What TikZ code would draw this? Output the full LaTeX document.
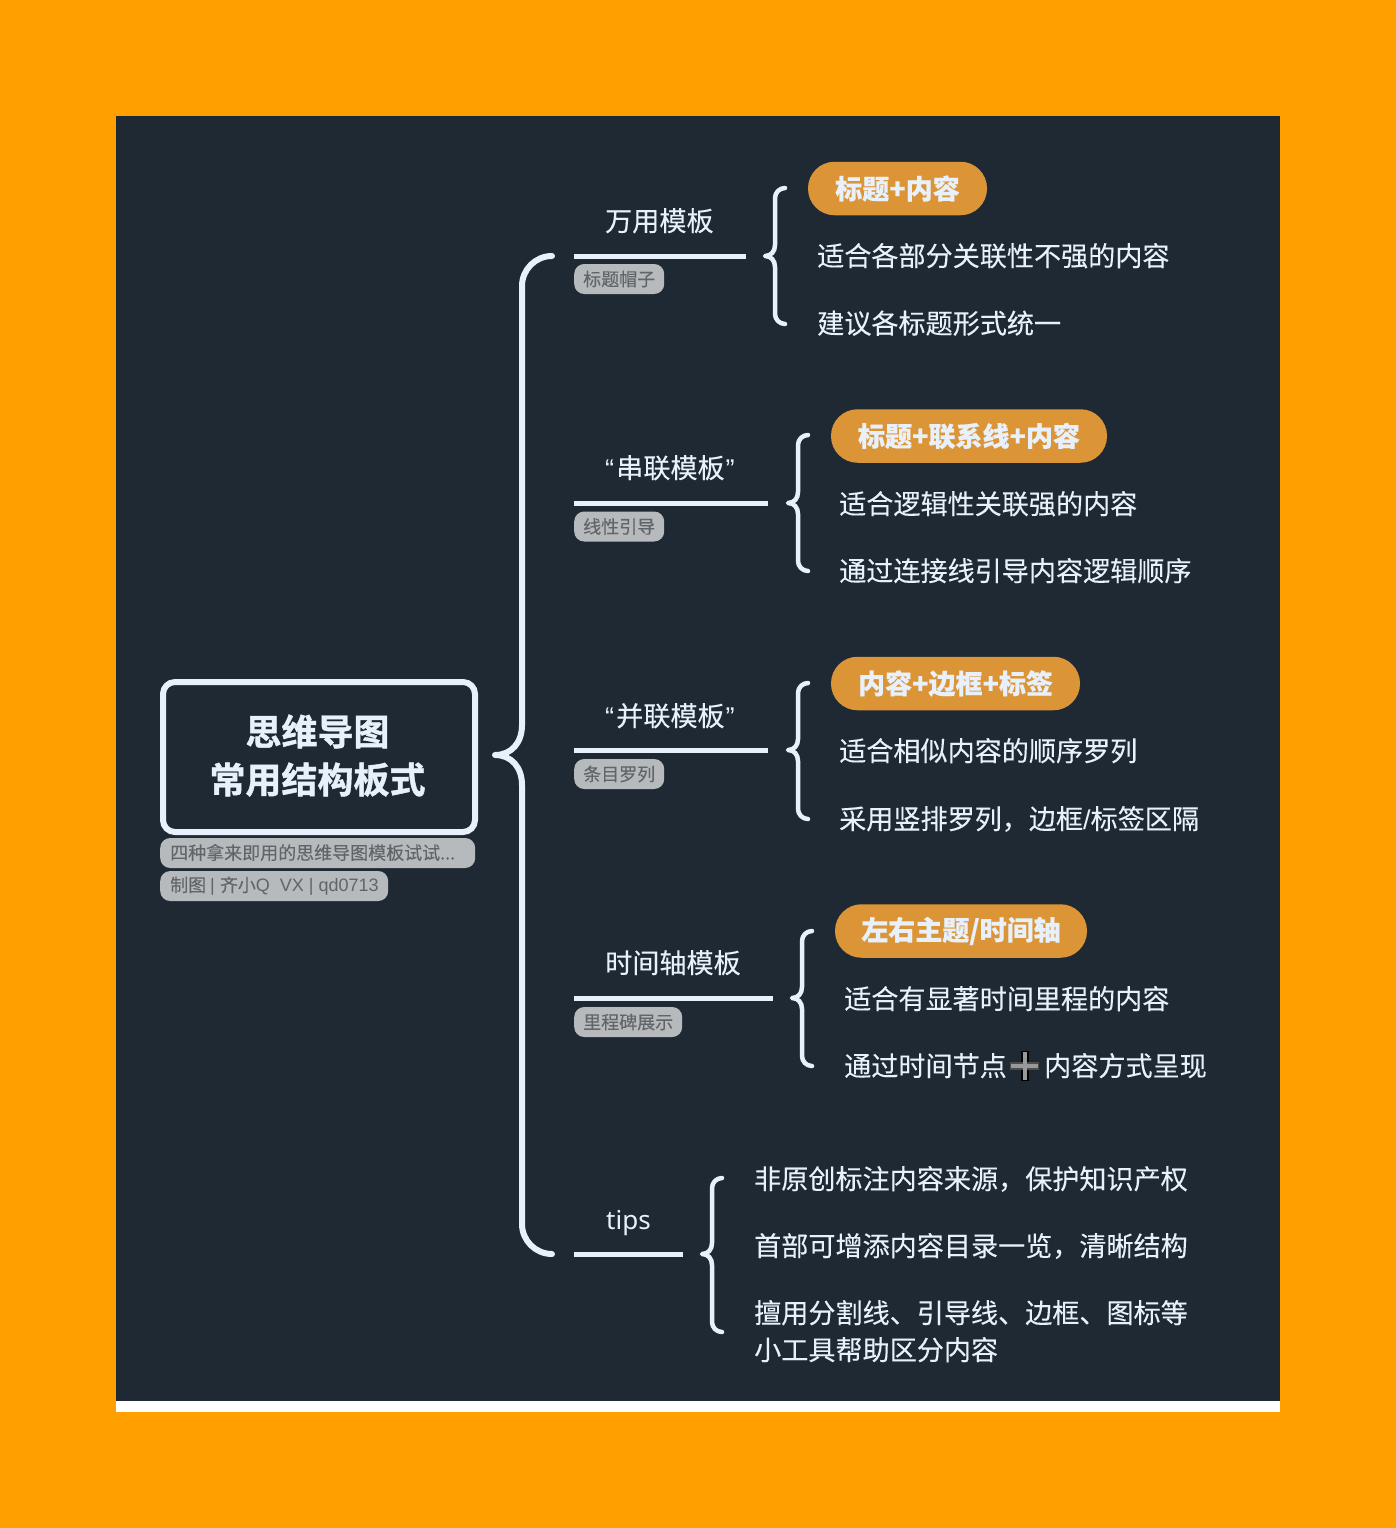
\documentclass[tikz,border=0pt]{standalone}
\usepackage{fontspec}
\setmainfont{Noto Sans CJK SC}[FakeBold=0.15,BoldFeatures={FakeBold=0.4}]
\newfontfamily\latfont{Liberation Sans}
\newfontfamily\tipfont{Noto Sans}
\newfontfamily\titlefont[FakeBold=1.2]{Noto Sans CJK SC Bold}
\usetikzlibrary{calc, positioning}

\definecolor{pagebg}{HTML}{FFA000}
\definecolor{slate}{HTML}{1F2933}
\definecolor{icewhite}{HTML}{E8F0FB}
\definecolor{honey}{HTML}{DC9536}
\definecolor{notegray}{HTML}{B7BABD}
\definecolor{notetext}{HTML}{60656A}

% tip, top end, bottom end, corner radius, spine offset, tip curve height, width
\newcommand{\curlybrace}[7]{
	\draw[icewhite,line width=#7,line cap=round,line join=round]
		(#2) .. controls +(-0.55*#4,0) and +(0,-0.55*#4) .. ($(#2)+(-#4,#4)$)
		-- ($(#1)+(#5,-#6)$) .. controls +(0,0.6*#6) and +(0.6*#5,0) .. (#1)
		.. controls +(0.6*#5,0) and +(0,-0.6*#6) .. ($(#1)+(#5,#6)$)
		-- ($(#3)+(-#4,-#4)$) .. controls +(0,0.55*#4) and +(-0.55*#4,0) .. (#3);
}

\begin{document}
\begin{tikzpicture}[x=1pt,y=-1pt,
	maintitle/.style={font=\fontsize{36}{48}\selectfont\titlefont,text=icewhite,align=center},
	mainbox/.style={draw=icewhite,line width=6pt,rounded corners=12pt,minimum width=312pt,minimum height=150pt,inner sep=0pt},
	notepill/.style={fill=notegray,rounded corners=10pt,minimum height=30pt,inner sep=0pt,text=notetext,font=\fontsize{18}{18}\selectfont,anchor=west},
	notetxt/.style={text=notetext,font=\fontsize{18}{18}\selectfont,inner sep=0pt,anchor=west},
	branchtext/.style={font=\fontsize{27.1}{27}\selectfont,text=icewhite,anchor=base west,inner sep=0pt},
	leaftext/.style={font=\fontsize{27.1}{37}\selectfont,text=icewhite,anchor=base west,inner sep=0pt,align=left},
	headpill/.style={fill=honey,rounded corners=26.5pt,minimum height=53.5pt,inner sep=0pt,text=icewhite,font=\fontsize{27}{27}\selectfont\bfseries},
	branchline/.style={icewhite,line width=5pt}
]
	\useasboundingbox (0,0) rectangle (1396,1528);
	\fill[pagebg] (0,0) rectangle (1396,1528);
	\fill[white] (116,116) rectangle (1280,1412);
	\fill[slate] (116,116) rectangle (1280,1401);

	\node[mainbox] at (319,757) (mainnode) {};
	\node[maintitle] at (317.5,755.5) (maintext) {思维导图\\常用结构板式};
	\node[notepill,minimum width=315pt] at (160,853) (note0) {};
	\node[notepill,minimum width=228pt] at (160,886) (note1) {};
	\node[notetxt] at (170,852.5) (note0text) {四种拿来即用的思维导图模板试试...};
	\node[notetxt] at (170,886) (note1text) {制图 {\latfont | }齐小{\latfont Q\ \ VX | qd0713}};

	\coordinate (bigtip) at (495,755);
	\coordinate (bigtop) at (552,256);
	\coordinate (bigbot) at (552,1254);
	\curlybrace{bigtip}{bigtop}{bigbot}{30}{27}{30}{6pt}

	% first branch
	\node[branchtext] at (605,231) (b0) {万用模板};
	\coordinate (b0s) at (574,256);
	\coordinate (b0e) at (746,256);
	\draw[branchline] (b0s) -- (b0e);
	\node[notepill,minimum width=90pt] at (574,279) (b0note) {标题帽子};
	\coordinate (b0tip) at (765,256);
	\coordinate (b0top) at (785,188);
	\coordinate (b0bot) at (785,324);
	\curlybrace{b0tip}{b0top}{b0bot}{10}{10}{11}{4.5pt}
	\node[headpill,minimum width=179pt] at (897.5,188.5) (h0) {标题+内容};
	\node[leaftext] at (817,266) (l00) {适合各部分关联性不强的内容};
	\node[leaftext] at (817,333.5) (l01) {建议各标题形式统一};

	% second branch
	\node[branchtext] at (605,478) (b1) {{\latfont “\kern2pt}串联模板{\latfont \kern1pt”}};
	\coordinate (b1s) at (574,503.5);
	\coordinate (b1e) at (768,503.5);
	\draw[branchline] (b1s) -- (b1e);
	\node[notepill,minimum width=90pt] at (574,526.5) (b1note) {线性引导};
	\coordinate (b1tip) at (788,503);
	\coordinate (b1top) at (808,435);
	\coordinate (b1bot) at (808,571);
	\curlybrace{b1tip}{b1top}{b1bot}{10}{10}{11}{4.5pt}
	\node[headpill,minimum width=276pt] at (969,436) (h1) {标题+联系线+内容};
	\node[leaftext] at (839,514) (l10) {适合逻辑性关联强的内容};
	\node[leaftext] at (839,581) (l11) {通过连接线引导内容逻辑顺序};

	% third branch
	\node[branchtext] at (605,726) (b2) {{\latfont “\kern2pt}并联模板{\latfont \kern1pt”}};
	\coordinate (b2s) at (574,750.5);
	\coordinate (b2e) at (768,750.5);
	\draw[branchline] (b2s) -- (b2e);
	\node[notepill,minimum width=90pt] at (574,774) (b2note) {条目罗列};
	\coordinate (b2tip) at (788,750);
	\coordinate (b2top) at (808,683);
	\coordinate (b2bot) at (808,819);
	\curlybrace{b2tip}{b2top}{b2bot}{10}{10}{11}{4.5pt}
	\node[headpill,minimum width=249pt] at (955.5,683.5) (h2) {内容+边框+标签};
	\node[leaftext] at (839,761) (l20) {适合相似内容的顺序罗列};
	\node[leaftext] at (839,829) (l21) {采用竖排罗列，边框{\latfont /}标签区隔};

	% fourth branch
	\node[branchtext] at (605,973) (b3) {时间轴模板};
	\coordinate (b3s) at (574,998);
	\coordinate (b3e) at (773,998);
	\draw[branchline] (b3s) -- (b3e);
	\node[notepill,minimum width=108pt] at (574,1022) (b3note) {里程碑展示};
	\coordinate (b3tip) at (792,998);
	\coordinate (b3top) at (812,931);
	\coordinate (b3bot) at (812,1066);
	\curlybrace{b3tip}{b3top}{b3bot}{10}{10}{11}{4.5pt}
	\node[headpill,minimum width=252pt] at (961,931) (h3) {左右主题/时间轴};
	\node[leaftext] at (844,1009) (l30) {适合有显著时间里程的内容};
	\node[leaftext] at (844,1076) (l31) {通过时间节点};
	\node[leaftext] at (1044,1076) (l32) {内容方式呈现};
	\fill[black] (1021,1051) rectangle (1029,1081);
	\fill[black!70] (1010,1062) rectangle (1039,1070);
	\fill[gray!80] (1023,1052) rectangle (1027,1080);
	\fill[gray!80] (1011,1063.5) rectangle (1038,1068);

	% tips
	\node[branchtext,font=\fontsize{26}{27}\selectfont\tipfont] at (606,1229) (b4) {tips};
	\coordinate (b4s) at (574,1254.5);
	\coordinate (b4e) at (683,1254.5);
	\draw[branchline] (b4s) -- (b4e);
	\coordinate (b4tip) at (702,1254);
	\coordinate (b4top) at (722,1178);
	\coordinate (b4bot) at (722,1332);
	\curlybrace{b4tip}{b4top}{b4bot}{10}{10}{11}{4.5pt}
	\node[leaftext] at (754,1189) (l40) {非原创标注内容来源，保护知识产权};
	\node[leaftext] at (754,1256) (l41) {首部可增添内容目录一览，清晰结构};
	\node[leaftext] at (754,1360) (l42) {擅用分割线、引导线、边框、图标等\\小工具帮助区分内容};
\end{tikzpicture}
\end{document}
